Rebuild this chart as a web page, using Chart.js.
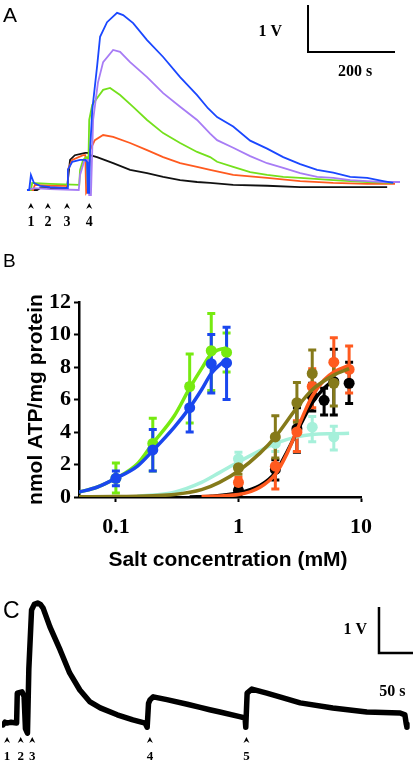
<!DOCTYPE html>
<html><head><meta charset="utf-8">
<script src="https://cdn.jsdelivr.net/npm/chart.js@4.4.0/dist/chart.umd.min.js"></script>
<style>
html,body{margin:0;padding:0;background:#fff;}
body{width:419px;height:764px;position:relative;overflow:hidden;}
canvas{position:absolute;left:0;}
</style></head><body>
<canvas id="cA" width="419" height="240" style="top:0px"></canvas>
<canvas id="cB" width="419" height="340" style="top:240px"></canvas>
<canvas id="cC" width="419" height="184" style="top:580px"></canvas>
<script>
const SERIF = '"Liberation Serif","Times New Roman",serif';
const SANS = '"Liberation Sans",Arial,sans-serif';

// ---------- Panel A: luminescence traces (time s, signal V) ----------
const traceBlueA = [[0,0],[5,0],[9,0.32],[16,0.15],[30,0.09],[53,0.06],[92,0.04],[94,0.43],[104,0.6],[122,0.64],[134,0.64],[138,0.6],[140,-0.06],[143,-0.06],[145,0.85],[150,1.7],[161,2.62],[168,3.26],[184,3.57],[207,3.77],[221,3.72],[244,3.55],[276,3.19],[313,2.83],[352,2.4],[391,2.02],[416,1.74],[437,1.55],[474,1.35],[513,1.05],[552,0.88],[589,0.7],[628,0.55],[667,0.43],[704,0.37],[743,0.28],[782,0.26],[819,0.19],[842,0.15]];
const tracePurpleA = [[0,0],[16,0.04],[53,0.02],[119,0.0],[122,0.32],[131,0.6],[136,0.64],[140,0.64],[143,-0.11],[147,-0.11],[152,1.49],[163,2.28],[175,2.72],[198,2.98],[214,2.94],[237,2.72],[276,2.4],[313,2.06],[352,1.77],[391,1.49],[421,1.2],[437,1.06],[474,0.9],[513,0.72],[552,0.57],[589,0.47],[628,0.36],[667,0.28],[704,0.26],[743,0.21],[782,0.19],[819,0.17],[858,0.17]];
const traceGreenA = [[0,0],[9,0],[12,0.15],[53,0.13],[120,0.11],[122,0.43],[129,0.64],[136,0.7],[138,0.7],[140,0.0],[143,1.49],[150,1.81],[163,1.98],[175,2.13],[191,2.17],[214,2.02],[244,1.77],[276,1.49],[313,1.21],[352,1.0],[391,0.81],[421,0.7],[437,0.6],[474,0.49],[513,0.38],[552,0.32],[589,0.28],[628,0.26],[704,0.21],[782,0.17],[842,0.15]];
const traceOrangeA = [[0,0],[14,0],[18,0.11],[53,0.09],[92,0.09],[94,0.43],[104,0.64],[129,0.74],[134,0.74],[136,-0.06],[140,0.0],[145,0.85],[156,1.06],[175,1.17],[198,1.13],[237,1.0],[276,0.85],[313,0.7],[352,0.57],[391,0.49],[421,0.43],[474,0.32],[552,0.26],[628,0.19],[704,0.15],[782,0.13],[846,0.13]];
const traceBlackA = [[0,0],[23,0],[30,0.04],[92,0.04],[99,0.64],[110,0.74],[134,0.79],[140,0.79],[145,0.74],[161,0.7],[198,0.57],[237,0.43],[276,0.36],[313,0.28],[352,0.21],[391,0.17],[421,0.15],[474,0.11],[552,0.09],[628,0.06],[704,0.06],[782,0.06],[828,0.06]];
const eventTimesA = [9, 48, 92, 143];
const eventLabelsA = ['1', '2', '3', '4'];

// ---------- Panel B: dose-response (salt mM, nmol ATP/mg protein) ----------
const xTicksB = [0.1, 1, 10];
const concLeft = [0.1, 0.2, 0.4, 0.6, 0.8];
const greenMean = [1.15, 3.3, 6.8, 9.0, 8.9];
const greenLow  = [0.25, 1.6, 4.55, 6.55, 7.7];
const greenHigh = [2.1, 4.85, 8.8, 11.3, 10.1];
const blueMean = [1.15, 2.9, 5.5, 8.2, 8.25];
const blueLow  = [0.7, 1.6, 4.0, 6.4, 6.0];
const blueHigh = [1.6, 4.15, 6.95, 10.0, 10.45];

const concBlack = [1, 2, 3, 4, 5, 6, 8];
const blackMean = [0.4, 1.7, 4.2, 6.2, 5.95, 7.1, 7.0];
const blackLow  = [0.1, 1.05, 2.75, 5.3, 5.05, 5.05, 5.75];
const blackHigh = [0.7, 2.3, 5.5, 7.0, 6.7, 9.1, 8.3];
const concOrange = [1, 2, 3, 4, 6, 8];
const orangeMean = [0.9, 1.9, 4.0, 6.8, 8.3, 7.85];
const orangeLow  = [0.6, 0.5, 2.8, 5.5, 6.9, 6.4];
const orangeHigh = [1.2, 3.3, 4.7, 7.9, 9.8, 9.3];
const concOlive = [1, 2, 3, 4, 6];
const oliveMean = [1.8, 3.7, 5.8, 7.6, 7.0];
const oliveLow  = [1.4, 2.4, 4.6, 6.2, 5.6];
const oliveHigh = [2.2, 5.0, 7.05, 9.05, 8.3];
const concCyan = [1, 2, 4, 6];
const cyanMean = [2.35, 3.3, 4.3, 3.7];
const cyanLow  = [2.0, 2.8, 3.4, 2.9];
const cyanHigh = [2.75, 3.8, 4.95, 4.35];

const fitXLeft = [0.05, 0.07, 0.1, 0.15, 0.2, 0.3, 0.4, 0.5, 0.6, 0.8];
const greenFit = [0.3, 0.6, 1.15, 2.05, 3.3, 5.0, 6.7, 7.9, 8.8, 9.2];
const blueFit  = [0.3, 0.6, 1.15, 1.9, 2.85, 4.3, 5.5, 6.6, 7.6, 8.5];
const fitXOlive = [0.05, 0.1, 0.2, 0.3, 0.5, 0.7, 1, 1.5, 2, 3, 4, 6, 8];
const oliveFit  = [0.02, 0.03, 0.08, 0.15, 0.45, 0.9, 1.6, 2.7, 3.7, 5.5, 6.6, 7.5, 7.9];
const fitXCyan = [0.15, 0.3, 0.5, 0.7, 1, 1.5, 2, 3, 4, 6, 8];
const cyanFit  = [0.05, 0.3, 0.9, 1.5, 2.15, 2.85, 3.3, 3.7, 3.85, 3.9, 3.92];
const fitXBlack = [0.4, 0.6, 1, 1.5, 2, 2.5, 3, 3.5, 4, 5, 6];
const blackFit  = [0.0, 0.05, 0.25, 0.7, 1.5, 2.8, 4.0, 5.0, 5.8, 6.7, 7.2];
const fitXOrange = [0.5, 1, 1.5, 2, 2.5, 3, 3.5, 4, 5, 6, 8];
const orangeFit  = [0.03, 0.15, 0.6, 1.4, 2.7, 4.1, 5.3, 6.2, 7.2, 7.7, 8.1];

// ---------- Panel C: single trace (time s, signal V) ----------
const traceC = [[0,-0.02],[3,0.04],[6,0.02],[12,0.04],[20,0.02],[21,0.67],[28,0.7],[31,0.6],[33,-0.1],[36,-0.2],[38,1.2],[42,2.48],[46,2.6],[51,2.63],[55,2.6],[59,2.52],[69,2.11],[84,1.61],[98,1.11],[113,0.74],[128,0.48],[143,0.35],[168,0.2],[191,0.09],[209,0.02],[212,-0.07],[214,0.45],[216,0.52],[221,0.59],[241,0.53],[271,0.43],[290,0.36],[304,0.31],[319,0.26],[348,0.16],[356,0.13],[357,-0.07],[359,0.67],[366,0.76],[388,0.67],[412,0.57],[437,0.46],[485,0.35],[535,0.26],[584,0.24],[591,0.2],[593,0.0],[594,-0.07]];
const eventTimesC = [6, 26, 43, 216, 358];
const eventLabelsC = ['1', '2', '3', '4', '5'];

// ---------- helpers / plugins ----------
const toXY = arr => arr.map(p => ({x: p[0], y: p[1]}));
const zipXY = (xs, ys) => xs.map((x, i) => ({x, y: ys[i]}));

const deco = {
  id: 'deco',
  afterDraw(chart, args, o) {
    const ctx = chart.ctx, xs = chart.scales.x, ys = chart.scales.y;
    ctx.save();
    ctx.fillStyle = '#000'; ctx.strokeStyle = '#000';
    if (o.letter) {
      ctx.font = o.letter.size + 'px ' + SANS;
      ctx.textAlign = 'left'; ctx.textBaseline = 'alphabetic';
      ctx.fillText(o.letter.text, o.letter.x, o.letter.y);
    }
    if (o.xTitle) {
      ctx.font = o.xTitle.font; ctx.textAlign = 'center'; ctx.textBaseline = 'middle';
      ctx.fillText(o.xTitle.text, o.xTitle.x, o.xTitle.y);
    }
    if (o.bar) {
      const b = o.bar;
      const x0 = xs.getPixelForValue(b.t), y0 = ys.getPixelForValue(b.v);
      const x1 = xs.getPixelForValue(b.t + b.dt), y1 = ys.getPixelForValue(b.v + b.dv);
      ctx.lineWidth = b.w; ctx.lineCap = 'butt'; ctx.lineJoin = 'miter';
      ctx.beginPath(); ctx.moveTo(x0, y1); ctx.lineTo(x0, y0); ctx.lineTo(x1, y0); ctx.stroke();
      ctx.font = b.font; ctx.textBaseline = 'middle';
      ctx.textAlign = 'right'; ctx.fillText(b.vLabel, x0 - b.vGap, (y0 + y1) / 2 + b.vDy);
      ctx.textAlign = 'center'; ctx.fillText(b.tLabel, (x0 + x1) / 2 + b.tDx, y0 + b.tGap);
    }
    if (o.events) {
      const e = o.events;
      ctx.font = e.font; ctx.textAlign = 'center'; ctx.textBaseline = 'middle';
      e.times.forEach((t, i) => {
        const x = xs.getPixelForValue(t), y = e.caretY;
        ctx.beginPath();
        ctx.moveTo(x - 3, y + 3); ctx.lineTo(x, y - 3); ctx.lineTo(x + 3, y + 3); ctx.lineTo(x, y + 1);
        ctx.closePath(); ctx.fill();
        ctx.fillText(e.labels[i], x, e.labelY);
      });
    }
    ctx.restore();
  }
};

const errBars = {
  id: 'errBars',
  beforeDatasetsDraw(chart) {
    const ctx = chart.ctx, xs = chart.scales.x, ys = chart.scales.y;
    ctx.save();
    const list = chart.data.datasets.filter(d => d.errLow).slice().reverse();
    list.forEach(ds => {
      ctx.strokeStyle = ds.borderColor; ctx.lineWidth = 3; ctx.lineCap = 'butt';
      ds.data.forEach((p, i) => {
        const x = xs.getPixelForValue(p.x);
        const yl = ys.getPixelForValue(ds.errLow[i]), yh = ys.getPixelForValue(ds.errHigh[i]);
        ctx.beginPath();
        ctx.moveTo(x, yl); ctx.lineTo(x, yh);
        ctx.moveTo(x - 4, yl); ctx.lineTo(x + 4, yl);
        ctx.moveTo(x - 4, yh); ctx.lineTo(x + 4, yh);
        ctx.stroke();
      });
    });
    ctx.restore();
  }
};

const baseOpts = {
  responsive: false, animation: false, events: [],
};

// ---------- Chart A ----------
const colA = {blue: '#1a47ff', purple: '#a77cf5', green: '#74e01c', orange: '#ff5a1f', black: '#111111'};
const lineA = (data, c) => ({data: toXY(data), borderColor: c, backgroundColor: c, showLine: true, pointRadius: 0, borderWidth: 1.8, tension: 0});
new Chart(document.getElementById('cA'), {
  type: 'scatter',
  data: {datasets: [
    lineA(traceBlueA, colA.blue), lineA(tracePurpleA, colA.purple), lineA(traceGreenA, colA.green),
    lineA(traceOrangeA, colA.orange), lineA(traceBlackA, colA.black)
  ]},
  options: Object.assign({}, baseOpts, {
    layout: {padding: {left: 20, right: 19, top: 5, bottom: 40}},
    scales: {
      x: {type: 'linear', display: false, min: -16.09, max: 857.47},
      y: {type: 'linear', display: false, min: -0.2128, max: 3.936}
    },
    plugins: {
      legend: {display: false}, tooltip: {enabled: false},
      deco: {
        letter: {text: 'A', x: 3, y: 22, size: 21},
        bar: {t: 646, v: 2.936, dt: 200, dv: 1, w: 2, vLabel: '1 V', tLabel: '200 s', vGap: 26, vDy: 3.5, tDx: 3.5, tGap: 20, font: 'bold 16px ' + SERIF},
        events: {times: eventTimesA, labels: eventLabelsA, caretY: 206, labelY: 222, font: 'bold 14px ' + SERIF}
      }
    }
  }),
  plugins: [deco]
});

// ---------- Chart B ----------
const colB = {green: '#76ea10', blue: '#1a47ee', black: '#000000', orange: '#ff5a1f', olive: '#857a1a', cyan: '#a6f0da'};
const pts = (xs, ys, lo, hi, c) => ({data: zipXY(xs, ys), errLow: lo, errHigh: hi, borderColor: c, backgroundColor: c, pointRadius: 5.5, pointBorderWidth: 0, showLine: false});
const fit = (xs, ys, c) => ({data: zipXY(xs, ys), borderColor: c, backgroundColor: c, pointRadius: 0, showLine: true, borderWidth: 3.5, cubicInterpolationMode: 'monotone'});
new Chart(document.getElementById('cB'), {
  type: 'scatter',
  data: {datasets: [
    pts(concLeft, blueMean, blueLow, blueHigh, colB.blue), fit(fitXLeft, blueFit, colB.blue),
    pts(concLeft, greenMean, greenLow, greenHigh, colB.green), fit(fitXLeft, greenFit, colB.green),
    pts(concOlive, oliveMean, oliveLow, oliveHigh, colB.olive), fit(fitXOlive, oliveFit, colB.olive),
    pts(concOrange, orangeMean, orangeLow, orangeHigh, colB.orange), fit(fitXOrange, orangeFit, colB.orange),
    pts(concBlack, blackMean, blackLow, blackHigh, colB.black), fit(fitXBlack, blackFit, colB.black),
    pts(concCyan, cyanMean, cyanLow, cyanHigh, colB.cyan), fit(fitXCyan, cyanFit, colB.cyan)
  ]},
  options: Object.assign({}, baseOpts, {
    layout: {padding: {left: 0, right: 58, top: 62, bottom: 0}},
    scales: {
      x: {
        type: 'logarithmic', min: 0.05, max: 10,
        afterBuildTicks: s => { s.ticks = xTicksB.map(v => ({value: v})); },
        afterFit: s => { s.height = 83; },
        grid: {drawOnChartArea: false, drawTicks: true, tickLength: 5, tickWidth: 2, tickColor: '#000'},
        border: {display: true, color: '#000', width: 2.5},
        ticks: {font: {family: SERIF, weight: 'bold', size: 22}, color: '#000', padding: 12, autoSkip: false, maxRotation: 0, callback: v => String(v)},
        title: {display: false}
      },
      y: {
        type: 'linear', min: 0, max: 12,
        afterFit: s => { s.width = 79; },
        grid: {drawOnChartArea: false, drawTicks: true, tickLength: 5, tickWidth: 2, tickColor: '#000'},
        border: {display: true, color: '#000', width: 2.5},
        ticks: {stepSize: 2, font: {family: SERIF, weight: 'bold', size: 22}, color: '#000', padding: 3},
        title: {display: true, text: 'nmol ATP/mg protein', font: {family: SANS, weight: 'bold', size: 21}, color: '#000', padding: {top: 24, bottom: 0}}
      }
    },
    plugins: {
      legend: {display: false}, tooltip: {enabled: false},
      deco: {
        letter: {text: 'B', x: 3, y: 27, size: 19},
        xTitle: {text: 'Salt concentration (mM)', x: 228, y: 320, font: 'bold 21px ' + SANS}
      }
    }
  }),
  plugins: [errBars, deco]
});

// ---------- Chart C ----------
new Chart(document.getElementById('cC'), {
  type: 'scatter',
  data: {datasets: [
    {data: toXY(traceC), borderColor: '#000', backgroundColor: '#000', showLine: true, pointRadius: 0, borderWidth: 5.5, tension: 0, borderJoinStyle: 'round', borderCapStyle: 'round'}
  ]},
  options: Object.assign({}, baseOpts, {
    layout: {padding: {left: 2, right: 2, top: 18, bottom: 26}},
    scales: {
      x: {type: 'linear', display: false, min: -1.47, max: 608.8},
      y: {type: 'linear', display: false, min: -0.304, max: 2.739}
    },
    plugins: {
      legend: {display: false}, tooltip: {enabled: false},
      deco: {
        letter: {text: 'C', x: 3, y: 38, size: 23},
        bar: {t: 552.9, v: 1.543, dt: 50, dv: 1, w: 2.5, vLabel: '1 V', tLabel: '50 s', vGap: 12, vDy: 0, tDx: -3.5, tGap: 39, font: 'bold 16px ' + SERIF},
        events: {times: eventTimesC, labels: eventLabelsC, caretY: 160, labelY: 177, font: 'bold 13px ' + SERIF}
      }
    }
  }),
  plugins: [deco]
});
</script>
</body></html>
